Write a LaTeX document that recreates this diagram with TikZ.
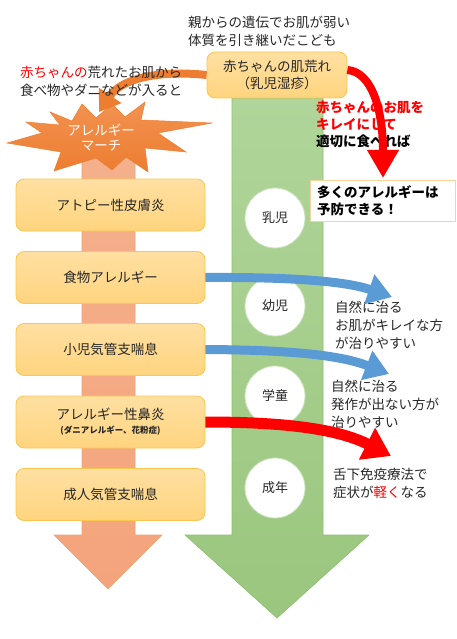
\documentclass[tikz,border=0pt]{standalone}
\usepackage{fontspec}
\setmainfont{Noto Sans CJK JP}
\usetikzlibrary{arrows.meta,shapes.geometric}
\definecolor{grn}{HTML}{A8D08D}
\definecolor{grnTop}{HTML}{B0D59A}
\definecolor{grnBot}{HTML}{9AC67E}
\definecolor{grnLine}{HTML}{8DBF6E}
\definecolor{salm}{HTML}{F4B08C}
\definecolor{salmBot}{HTML}{F4A47C}
\definecolor{orng}{HTML}{ED7D31}
\definecolor{orngLt}{HTML}{F29250}
\definecolor{ylwTop}{HTML}{FFE0A2}
\definecolor{ylwBot}{HTML}{FFD47E}
\definecolor{ylwLine}{HTML}{F9C74F}
\definecolor{bluA}{HTML}{5B9BD5}
\definecolor{redA}{HTML}{FF0000}
\definecolor{txt}{HTML}{262626}
\definecolor{circLine}{HTML}{C9E2B8}
\definecolor{noteLine}{HTML}{F8D49A}
\tikzset{
  ybox/.style={draw=ylwLine, line width=0.8pt, rounded corners=8pt, top color=ylwTop, bottom color=ylwBot,
    minimum width=189pt, minimum height=52pt, inner sep=0pt, text=txt,
    font=\fontsize{13.5}{17}\selectfont, align=center},
  agecirc/.style={circle, draw=circLine, line width=0.8pt, fill=white, minimum size=60pt, inner sep=0pt,
    text=txt, font=\fontsize{13}{16}\selectfont},
  plain/.style={inner sep=0pt, text=txt, font=\fontsize{13.5}{18}\selectfont, align=left, anchor=west},
  redtxt/.style={inner sep=0pt, font=\bfseries\fontsize{13.5}{17}\selectfont, align=left, anchor=west},
  curvarrow/.style={line width=9pt, -{Triangle[width=30pt,length=24pt]}}
}
\begin{document}
\begin{tikzpicture}[x=1pt,y=-1pt]
\useasboundingbox (0,0) rectangle (456,639);
% big green arrow
\shade[top color=grnTop, bottom color=grnBot, draw=grnLine, line width=0.6pt]
  (232,98) -- (323,98) -- (323,535) -- (369,535) -- (277,618) -- (185,535) -- (232,535) -- cycle;
% salmon arrow
\shade[top color=salm, bottom color=salmBot, draw=orng!70, line width=0.6pt]
  (82,150) -- (135,150) -- (135,535) -- (162,535) -- (108,589) -- (54,535) -- (82,535) -- cycle;
% age circles
\node[agecirc] (c1) at (275,218) {乳児};
\node[agecirc] (c2) at (275,306) {幼児};
\node[agecirc] (c3) at (275,396) {学童};
\node[agecirc] (c4) at (275,488) {成年};
% disease boxes
\node[ybox] (b1) at (110.5,205) {アトピー性皮膚炎};
\node[ybox] (b2) at (110.5,277.5) {食物アレルギー};
\node[ybox] (b3) at (110.5,349.5) {小児気管支喘息};
\node[ybox] (b4) at (110.5,422) {アレルギー性鼻炎\\[-3pt]{\bfseries\fontsize{8.5}{10}\selectfont (ダニアレルギー、花粉症)}};
\node[ybox] (b5) at (110.5,494.5) {成人気管支喘息};
% top box
\node[draw=ylwLine, line width=0.8pt, rounded corners=8pt, top color=ylwTop, bottom color=ylwBot,
  minimum width=140pt, minimum height=46pt, inner sep=0pt, text=txt, align=center,
  font=\fontsize{13.5}{17}\selectfont] (top) at (277,75) {赤ちゃんの肌荒れ\\（乳児湿疹）};
% starburst
\shade[top color=orngLt, bottom color=orng, draw=orng, line width=0.5pt]
  (50,112) -- (72,121) -- (82,104) -- (96,118) -- (112,104) -- (125,117) -- (145,102) -- (141,120)
  -- (212,123) -- (158,133) -- (186,152) -- (145,148) -- (148,172) -- (126,157) -- (112,170)
  -- (96,158) -- (54,171) -- (61,152) -- (7,143) -- (42,133) -- (26,122) -- (60,125) -- cycle;
\node[inner sep=0pt, text=white, align=center, font=\fontsize{13.5}{15.5}\selectfont] (march) at (101,137.5) {アレルギー\\マーチ};
% orange curved arrow
\coordinate (burst) at (99,112);
\draw[orng, line width=8pt, -{Triangle[width=26pt,length=20pt]}] (top.west) .. controls (160,70) and (122,78) .. (burst);
% texts
\node[plain] (gen) at (188,31) {親からの遺伝でお肌が弱い\\体質を引き継いだこども};
\node[plain] (skin) at (20,81) {\textcolor{redA}{赤ちゃんの}荒れたお肌から\\食べ物やダニなどが入ると};
% red text
\node[redtxt] (care) at (316,124) {\textcolor{redA}{赤ちゃんのお肌を}\\\textcolor{redA}{キレイにして}\\\textcolor{black}{適切に食べれば}};
% red arrow from top box
\coordinate (prevent) at (383,178);
\draw[redA, line width=8pt, -{Triangle[width=30pt,length=28pt]}] (top.east |- 0,70) .. controls (372,72) and (383,110) .. (prevent);
% note box
\node[draw=noteLine, line width=0.8pt, fill=white, minimum width=145pt, minimum height=41pt, inner sep=0pt,
  anchor=north west, text=black] (note) at (310,180) {};
\node[redtxt, text=black] (notetxt) at (317,200.5) {多くのアレルギーは\\予防できる！};
% outcome texts
\node[plain] (o1) at (335,325.5) {自然に治る\\お肌がキレイな方\\が治りやすい};
\node[plain] (o2) at (331,404) {自然に治る\\発作が出ない方が\\治りやすい};
\node[plain] (o3) at (333,483.5) {舌下免疫療法で\\症状が\textcolor{redA}{軽く}なる};
% blue / red curved arrows
\coordinate (t1) at (392,297);
\coordinate (t2) at (389,374);
\coordinate (t3) at (391,456);
\draw[bluA, curvarrow] (b2.east) .. controls (290,277) and (345,281) .. (t1);
\draw[bluA, curvarrow] (b3.east) .. controls (290,350) and (340,355) .. (t2);
\draw[redA, line width=11pt, -{Triangle[width=34pt,length=27pt]}] (b4.east) .. controls (290,422) and (340,430) .. (t3);
\end{tikzpicture}
\end{document}
